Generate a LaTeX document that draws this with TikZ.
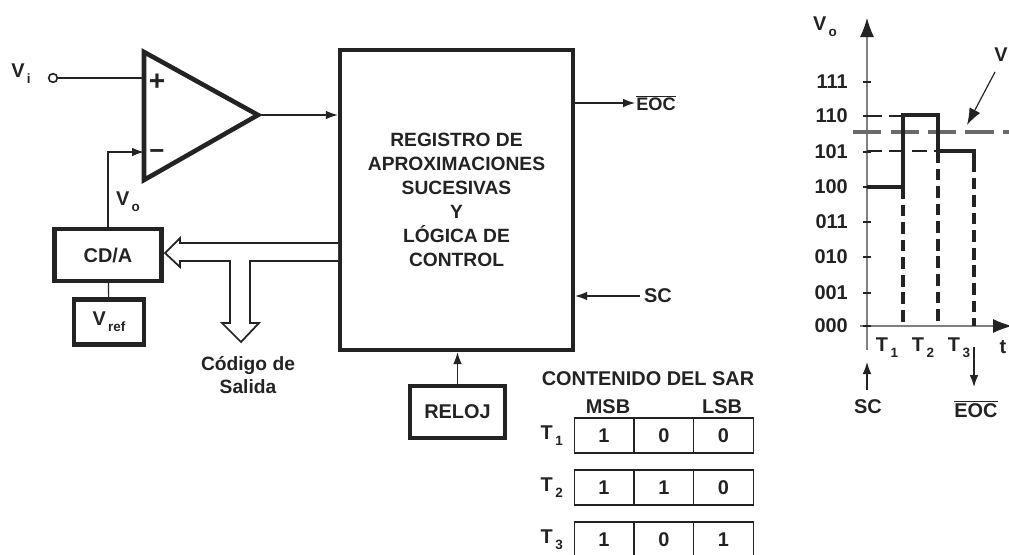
\documentclass[tikz,border=0pt]{standalone}
\usepackage{fontspec}
\setmainfont{Liberation Sans}
\usepackage{xcolor}
\usetikzlibrary{positioning,calc,arrows.meta}
\definecolor{inkc}{HTML}{232323}
\definecolor{axisc}{HTML}{808080}
\definecolor{levelc}{HTML}{6A6A6A}
\newcommand{\subs}[1]{\raisebox{-0.55ex}{\kern0.12em\fontsize{11.5}{12}\selectfont #1}}

\begin{document}
\begin{tikzpicture}[x=0.03cm, y=-0.03cm, every node/.style={text=inkc, font=\bfseries\fontsize{17}{19}\selectfont, inner sep=0pt},
    thickbox/.style={draw=inkc, line width=3.7pt, rectangle},
    wire/.style={draw=inkc, line width=1pt},
    arrowed/.style={wire, -{Latex[length=3.6mm,width=2.6mm]}},
    staircase/.style={draw=inkc, line width=3pt},
    dashvert/.style={draw=inkc, line width=3pt, dash pattern=on 10pt off 5pt},
    dashhoriz/.style={draw=inkc, line width=2pt, dash pattern=on 13pt off 6pt},
    cell/.style={draw=inkc, line width=1.1pt, rectangle, minimum width=1.79cm, minimum height=1.05cm}]
  \useasboundingbox (0,0) rectangle (1009,554);
  % blocks
  \node[thickbox, minimum width=6.99cm, minimum height=9cm, align=center, font=\bfseries\fontsize{16.4}{20.4}\selectfont] (sar) at (456.5,200)
    {REGISTRO DE\\APROXIMACIONES\\SUCESIVAS\\Y\\LÓGICA DE\\CONTROL};
  \node[thickbox, minimum width=3.2cm, minimum height=1.55cm] (cda) at (108,255) {CD/A};
  \node[thickbox, minimum width=2.1cm, minimum height=1.35cm] (vref) at (109,322) {V\subs{ref}};
  \node[thickbox, minimum width=2.85cm, minimum height=1.55cm] (reloj) at (457.5,412) {RELOJ};
  % comparator
  \coordinate (opout) at (258,115);
  \coordinate (opplus) at (144,78);
  \coordinate (opminus) at (144,152);
  \draw[draw=inkc, line width=3.9pt, line join=miter] (144,52) -- (144,180) -- (opout) -- cycle;
  \node[font=\bfseries\fontsize{24}{24}\selectfont] (plus) at (157,82) {+};
  \node[font=\bfseries\fontsize{22}{22}\selectfont] (minus) at (157,155) {\textminus};
  \node[circle, draw=inkc, line width=1.4pt, minimum size=2.6mm] (vicirc) at (53,78) {};
  \node (vi) at (21,74) {V\subs{i}};
  \node (vo) at (128,202) {V\subs{o}};
  \draw[wire] (vicirc) -- (opplus);
  \draw[arrowed] (cda.north) |- (opminus);
  \draw[wire] (cda) -- (vref);
  \draw[arrowed] (opout) -- (sar.west |- opout);
  \draw[arrowed] (reloj) -- (reloj |- sar.south);
  % outputs of the register
  \node[font=\bfseries\fontsize{15.5}{17}\selectfont] (eoc) at (656,103) {$\overline{\mbox{\bfseries EOC}}$};
  \node (sc) at (658,296) {SC};
  \coordinate (scstart) at (640,296);
  \coordinate (eocend) at (635,103);
  \draw[arrowed] (sar.east |- eoc) -- (eocend);
  \draw[arrowed] (scstart) -- (sar.east |- scstart);
  % hollow bus
  \draw[draw=inkc, line width=1.5pt, line join=miter, fill=white] (338,243) -- (180,243) -- (180,238) -- (165,253) -- (180,267) -- (180,261) -- (230,261) -- (230,323) -- (222,323) -- (241,342) -- (259,323) -- (250,323) -- (250,261) -- (338,261);
  \node[align=center, font=\bfseries\fontsize{16.4}{20}\selectfont] (code) at (248,375) {Código de\\Salida};
  % SAR contents
  \node (title) at (648,379) {CONTENIDO DEL SAR};
  \node (msb) at (608,407) {MSB};
  \node (lsb) at (722,407) {LSB};
  \foreach \r/\y/\a/\b/\c in {1/435.5/1/0/0, 2/487.5/1/1/0, 3/539.5/1/0/1}{
    \node[cell] (c\r a) at (604,\y) {\a};
    \node[cell] (c\r b) at (664,\y) {\b};
    \node[cell] (c\r c) at (723.5,\y) {\c};
    \node[left=9pt of c\r a.west] (t\r) {T\subs{\r}};
  }
  % staircase plot
  \coordinate (ybase) at (867,350);
  \coordinate (ytop) at (867,18);
  \coordinate (xbase) at (860,326);
  \coordinate (xtip) at (1012,326);
  \draw[axisc, line width=0.9pt, -{Latex[length=5.7mm,width=4.2mm,color=inkc]}] (ybase) -- (ytop);
  \draw[axisc, line width=0.9pt, -{Latex[length=5.7mm,width=4.2mm,color=inkc]}] (xbase) -- (xtip);
  \foreach \lev/\y in {111/82,110/116,101/152,100/187,011/222,010/257,001/293,000/326}{
    \draw[inkc, line width=1pt] (863,\y) -- (871,\y);
    \node[anchor=east] (l\lev) at (848,\y) {\lev};
  }
  \node (voaxis) at (825,27) {V\subs{o}};
  \node (vilab) at (1001,55) {V};
  \node (tlab) at (1003,347) {t};
  \coordinate (vistart) at (995,72);
  \coordinate (vitip) at (967,125);
  \draw[wire, -{Latex[length=5mm,width=3.6mm]}] (vistart) -- (vitip);
  \draw[levelc, line width=3pt, dash pattern=on 24pt off 8pt] (853,132) -- (1009,132);
  \draw[dashhoriz] (867,116) -- (903,116);
  \draw[dashhoriz] (867,151) -- (938,151);
  \draw[staircase, line join=miter] (867,187) -- (903,187) -- (903,115) -- (938,115) -- (938,151) -- (974,151) -- (974,160);
  \draw[dashvert] (903,187) -- (903,326);
  \draw[dashvert] (938,151) -- (938,326);
  \draw[dashvert] (974,160) -- (974,326);
  \node (tone) at (887,348) {T\subs{1}};
  \node (ttwo) at (923,348) {T\subs{2}};
  \node (tthree) at (959,348) {T\subs{3}};
  % markers under the plot
  \node (scplot) at (868,407) {SC};
  \node (eocplot) at (976,409) {$\overline{\mbox{\bfseries EOC}}$};
  \coordinate (scfoot) at (867,390);
  \coordinate (schead) at (867,362);
  \coordinate (eocfoot) at (974,347);
  \coordinate (eochead) at (974,387);
  \draw[arrowed] (scfoot) -- (schead);
  \draw[arrowed] (eocfoot) -- (eochead);
\end{tikzpicture}
\end{document}
